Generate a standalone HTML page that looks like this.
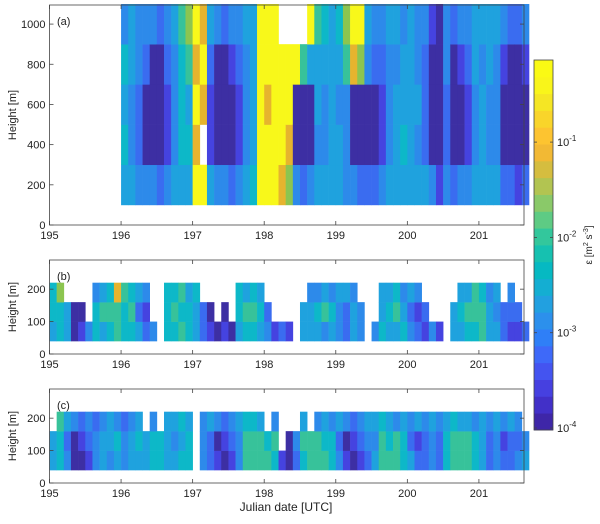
<!DOCTYPE html>
<html><head><meta charset="utf-8"><style>
body{margin:0;background:#fff;width:600px;height:519px;overflow:hidden}
text{font-family:"Liberation Sans",sans-serif;fill:#222}
</style></head><body>
<svg id="chart" width="600" height="519" xmlns="http://www.w3.org/2000/svg"></svg>
<script>
// ---- data (levels 0..9 of log10 epsilon, 'x' = missing), columns every 0.1 day, rows bottom->top
const startA = 196.0;
const colsA = ["45453","43344","32233","30023","30003","20002","31123","43334","45556","45467",
"98989","9x898","41124","30003","30002","20013","31123","43334","54444","99999",
"99899","99999","8999x","7899x","3009x","2006x","30049","43446","43345","44444",
"44345","33367","30089","20079","20034","20023","31123","43334","44434","45443",
"44444","43433","42223","30001","10000","32233","20002","30013","31123","43344",
"44434","43344","43334","20013","20002","10002","20013"];
const heightsA = [100,300,500,700,900,1100];
const startB = 195.0;
const colsB = ["455","557","44x","00x","10x","3xx","553","464","565","668",
"556","565","424","213","3xx","xxx","555","565","656","554",
"445","22x","10x","0xx","10x","0xx","455","564","565","454",
"32x","1xx","2xx","1xx","xxx","44x","443","453","364","453",
"334","224","443","33x","xxx","3xx","544","454","465","543",
"324","213","12x","3xx","1xx","xxx","44x","454","564","566",
"665","443","434","22x","123","12x","2xx"];
const colsC = ["44x","556","324","003","012","123","332","443","344","453",
"332","443","454","44x","553","55x","444","434","545","554",
"xxx","333","224","103","012","123","334","665","665","664",
"65x","563","1xx","00x","23x","564","66x","663","654","553",
"324","103","012","123","234","434","665","654","663","554",
"423","214","223","334","223","554","665","664","664","553",
"444","223","334","213","224","323","43x"];
const heightsBC = [40,100,160,220];
const xTicks = [195,196,197,198,199,200,201];
const yTicksA = [0,200,400,600,800,1000];
const yTicksBC = [0,100,200];
const cbTicks = [-1,-2,-3,-4];
const palette = ["#3d2fa3","#4543e0","#3a6cf0","#2d8aea","#1fa2de","#0db8c8","#37c29a","#8cc550","#e6b42e","#f8f81a"];
const parula = ["#3e26a8","#4230c8","#4640e0","#4454f0","#3e69f9","#2f7ff7","#2c90ec","#22a0e0","#14aed2","#06b9c2","#16c1b0","#33c79c","#5ecb84","#8ac969","#b2c451","#d5bd3f","#f2b934","#fdc430","#f9d52a","#f5e624","#f9f51a","#fafa14"];

const NS="http://www.w3.org/2000/svg";
const svg=document.getElementById('chart');
function mk(tag,attrs,parent){const e=document.createElementNS(NS,tag);for(const k in attrs)e.setAttribute(k,attrs[k]);(parent||svg).appendChild(e);return e;}
const X0=49.5,X1=524, D0=195, D1=201.63;
function xs(d){return X0+(d-D0)/(D1-D0)*(X1-X0);}

function panel(name,top,bottom,ymax,yt,start,cols,heights,label){
  const g=mk('g',{});
  
  
  const ys=v=>bottom-(v/ymax)*(bottom-top);
  cols.forEach((c,i)=>{
    for(let r=0;r<heights.length-1;r++){
      const ch=c[r]; if(!ch||ch==='x')continue;
      const x=xs(start+i*0.1), w=xs(start+(i+1)*0.1)-x;
      const y=ys(heights[r+1]), h=ys(heights[r])-y;
      const rc=mk('rect',{x:x.toFixed(2),y:y.toFixed(2),width:(w+0.3).toFixed(2),height:(h+0.3).toFixed(2),fill:palette[+ch]},g);
      
      
    }
  });
  mk('rect',{x:X0,y:top,width:X1-X0,height:bottom-top,fill:'none',stroke:'#444','stroke-width':0.8},g);
  xTicks.forEach(t=>{const x=xs(t);
    mk('line',{x1:x,x2:x,y1:bottom,y2:bottom-4,stroke:'#444','stroke-width':0.8},g);
    mk('line',{x1:x,x2:x,y1:top,y2:top+4,stroke:'#444','stroke-width':0.8},g);
    const tx=mk('text',{x:x,y:bottom+14,'text-anchor':'middle','font-size':11},g);tx.textContent=t;
    
    
  });
  yt.forEach(t=>{const y=ys(t);
    mk('line',{x1:X0,x2:X0+4,y1:y,y2:y,stroke:'#444','stroke-width':0.8},g);
    mk('line',{x1:X1,x2:X1-4,y1:y,y2:y,stroke:'#444','stroke-width':0.8},g);
    const tx=mk('text',{x:X0-4,y:y+4,'text-anchor':'end','font-size':11},g);tx.textContent=t;
    
    
  });
  const yl=mk('text',{x:0,y:0,transform:`translate(16,${(top+bottom)/2}) rotate(-90)`,'text-anchor':'middle','font-size':11},g);yl.textContent='Height [m]';
  
  
  const pl=mk('text',{x:57,y:top+20,'font-size':11},g);pl.textContent=label;
  
  
}
panel('panel-a',5,225,1095,yTicksA,startA,colsA,heightsA,'(a)');
panel('panel-b',260,354,290,yTicksBC,startB,colsB,heightsBC,'(b)');
panel('panel-c',389,483,290,yTicksBC,startB,colsC,heightsBC,'(c)');
const xl=mk('text',{x:286,y:511,'text-anchor':'middle','font-size':12});xl.textContent='Julian date [UTC]';



// colorbar
const cb=mk('g',{});


const CT=60,CB=430,CX=534,CW=19;
const bh=(CB-CT)/parula.length;
parula.forEach((c,i)=>{mk('rect',{x:CX,y:(CB-(i+1)*bh).toFixed(2),width:CW,height:(bh+0.4).toFixed(2),fill:c},cb);});
mk('rect',{x:CX,y:CT,width:CW,height:CB-CT,fill:'none',stroke:'#444','stroke-width':0.8},cb);
const cy=v=>428-(v+4)*95.3;
cbTicks.forEach(v=>{const y=cy(v);
  mk('line',{x1:CX,x2:CX+3,y1:y,y2:y,stroke:'#444','stroke-width':0.8},cb);
  mk('line',{x1:CX+CW,x2:CX+CW-3,y1:y,y2:y,stroke:'#444','stroke-width':0.8},cb);
  const t=mk('text',{x:CX+CW+4,y:y+4,'font-size':11},cb);
  t.innerHTML='10<tspan dy="-5" font-size="8">'+v+'</tspan>';
  
  
});
const ct=mk('text',{x:0,y:0,transform:'translate(592,245) rotate(-90)','text-anchor':'middle','font-size':10},cb);
ct.innerHTML='ε [m<tspan dy="-4" font-size="7">2</tspan><tspan dy="4"> s</tspan><tspan dy="-4" font-size="7">-3</tspan><tspan dy="4">]</tspan>';


</script>
</body></html>
